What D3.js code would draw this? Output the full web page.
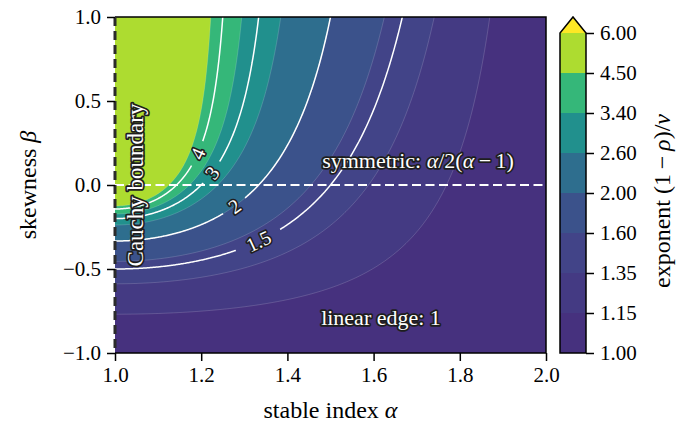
<!DOCTYPE html>
<html>
<head>
<meta charset="utf-8">
<script src="https://cdn.jsdelivr.net/npm/d3@7"></script>
<style>
  body { margin: 0; background: #fff; }
  svg { font-family: "Liberation Serif", "Times New Roman", serif; }
  .halo { fill: #fff; stroke: #1e1e1e; stroke-width: 3.5px; paint-order: stroke; stroke-linejoin: round; }
</style>
</head>
<body>
<script>
// axis ranges and ticks
var alphaRange = [1, 2],
    betaRange = [-1, 1],
    xTicks = [1.0, 1.2, 1.4, 1.6, 1.8, 2.0],
    yTicks = [-1.0, -0.5, 0.0, 0.5, 1.0];

// filled contour levels (colorbar ticks) and their colours
var levels = [1.00, 1.15, 1.35, 1.60, 2.00, 2.60, 3.40, 4.50, 6.00];
var binColors = ["#46317e", "#443a83", "#424488", "#3b528b", "#2e6e8e", "#21908d", "#35b779", "#addc30"],
    overColor = "#fde725";

// white contour lines, and the alpha at which each label sits
var lineLevels = [1.5, 2, 3, 4],
    lineLabels = ["1.5", "2", "3", "4"],
    labelAlpha = [1.333, 1.277, 1.225, 1.192];

var W = 678, H = 424,
    m = {left: 115, right: 546, top: 17, bottom: 353};

var xs = d3.scaleLinear().domain(alphaRange).range([m.left, m.right]),
    ys = d3.scaleLinear().domain(betaRange).range([m.bottom, m.top]);

// exponent (1 - rho)/nu of a stable law, rho = P(X > 0), nu = 1 - 1/alpha
function exponent(a, b) {
  var rho = 0.5 + Math.atan(b * Math.tan(Math.PI * a / 2)) / (Math.PI * a);
  var nu = 1 - 1 / a;
  return Math.min((1 - rho) / nu, 6);
}

// sample grid (with a little padding outside the axes so edges get clipped)
var N = 440, M = 340, PAD = 2,
    DA = (alphaRange[1] - alphaRange[0]) / N,
    DB = (betaRange[1] - betaRange[0]) / M,
    nx = N + 1 + 2 * PAD, ny = M + 1 + 2 * PAD;
var grid = new Float64Array(nx * ny);
for (var j = 0; j < ny; j++) {
  var b = Math.max(-1, Math.min(1, betaRange[1] - (j - PAD) * DB));
  for (var i = 0; i < nx; i++) {
    var a = Math.max(1 + 1e-7, Math.min(2, alphaRange[0] + (i - PAD) * DA));
    grid[j * nx + i] = exponent(a, b);
  }
}

var proj = d3.geoTransform({
  point: function(x, y) {
    this.stream.point(xs(alphaRange[0] + (x - 0.5 - PAD) * DA),
                      ys(betaRange[1] - (y - 0.5 - PAD) * DB));
  }
});
var path = d3.geoPath(proj);

var svg = d3.select("body").append("svg")
    .attr("width", W).attr("height", H);

var defs = svg.append("defs");
defs.append("clipPath").attr("id", "plotclip")
  .append("rect")
    .attr("x", m.left).attr("y", m.top)
    .attr("width", m.right - m.left).attr("height", m.bottom - m.top);

var plot = svg.append("g").attr("clip-path", "url(#plotclip)");

// filled bands
plot.append("rect")
    .attr("x", m.left).attr("y", m.top)
    .attr("width", m.right - m.left).attr("height", m.bottom - m.top)
    .attr("fill", binColors[0]);

var fillContours = d3.contours().size([nx, ny]).thresholds(levels.slice(1, 8))(grid);
plot.selectAll("path.band")
    .data(fillContours)
  .enter().append("path")
    .attr("class", "band")
    .attr("d", path)
    .attr("fill", function(d, i) { return binColors[i + 1]; })
    .attr("stroke", "rgba(255,255,255,0.28)")
    .attr("stroke-width", 0.6);

// label placement along each line
function betaOn(level, a) {
  var lo = -1, hi = 1;
  if (exponent(a, hi) < level || exponent(a, lo) > level) return null;
  for (var k = 0; k < 60; k++) {
    var mid = (lo + hi) / 2;
    if (exponent(a, mid) < level) lo = mid; else hi = mid;
  }
  return (lo + hi) / 2;
}
var labels = lineLevels.map(function(L, k) {
  var a = labelAlpha[k], b = betaOn(L, a);
  var b1 = betaOn(L, a - 0.004), b2 = betaOn(L, a + 0.004);
  var dx = xs(a + 0.004) - xs(a - 0.004), dy = ys(b2) - ys(b1);
  var ang = Math.atan2(dy, dx) * 180 / Math.PI;
  if (ang > 90) ang -= 180;
  if (ang < -90) ang += 180;
  return {text: lineLabels[k], x: xs(a), y: ys(b), angle: ang};
});

// mask cutting the lines under the labels
var mask = defs.append("mask").attr("id", "gaps")
    .attr("maskUnits", "userSpaceOnUse")
    .attr("x", 0).attr("y", 0).attr("width", W).attr("height", H);
mask.append("rect").attr("width", W).attr("height", H).attr("fill", "#fff");
mask.selectAll("rect.cut")
    .data(labels)
  .enter().append("rect")
    .attr("class", "cut")
    .attr("x", function(d) { return -(d.text.length * 5.5 + 8); })
    .attr("y", -10)
    .attr("width", function(d) { return 2 * (d.text.length * 5.5 + 8); })
    .attr("height", 20)
    .attr("fill", "#000")
    .attr("transform", function(d) { return "translate(" + d.x + "," + d.y + ") rotate(" + d.angle + ")"; });

var lineContours = d3.contours().size([nx, ny]).thresholds(lineLevels)(grid);
plot.append("g").attr("mask", "url(#gaps)")
  .selectAll("path")
    .data(lineContours)
  .enter().append("path")
    .attr("d", path)
    .attr("fill", "none")
    .attr("stroke", "#fff")
    .attr("stroke-width", 1.5);

// symmetric line beta = 0
plot.append("line")
    .attr("x1", xs(1)).attr("x2", xs(2))
    .attr("y1", ys(0)).attr("y2", ys(0))
    .attr("stroke", "#fff").attr("stroke-width", 2)
    .attr("stroke-dasharray", "9,4.5");

// contour labels
svg.selectAll("text.clabel")
    .data(labels)
  .enter().append("text")
    .attr("class", "clabel halo")
    .attr("transform", function(d) { return "translate(" + d.x + "," + d.y + ") rotate(" + d.angle + ")"; })
    .attr("text-anchor", "middle")
    .attr("dy", "0.35em")
    .style("font-size", "20px")
    .style("stroke-width", "3.2px")
    .text(function(d) { return d.text; });

// spines
svg.append("path")
    .attr("d", "M" + m.left + "," + m.top + "H" + m.right + "V" + m.bottom + "H" + m.left)
    .attr("fill", "none").attr("stroke", "#000").attr("stroke-width", 1.5);

// Cauchy boundary alpha = 1
svg.append("line")
    .attr("x1", xs(1)).attr("x2", xs(1))
    .attr("y1", ys(1)).attr("y2", ys(-1))
    .attr("stroke", "#2b2b2b").attr("stroke-width", 3)
    .attr("stroke-dasharray", "9,5");

// axes
var xAxis = svg.append("g")
    .attr("transform", "translate(0," + m.bottom + ")")
    .call(d3.axisBottom(xs).tickValues(xTicks).tickFormat(d3.format(".1f")).tickSize(8).tickPadding(6));
var yAxis = svg.append("g")
    .attr("transform", "translate(" + m.left + ",0)")
    .call(d3.axisLeft(ys).tickValues(yTicks).tickFormat(function(d) { return d3.format(".1f")(d).replace("-", "\u2212"); }).tickSize(8).tickPadding(6));
[xAxis, yAxis].forEach(function(g) {
  g.select(".domain").remove();
  g.selectAll(".tick line").attr("stroke", "#000").attr("stroke-width", 1.5);
  g.selectAll(".tick text").attr("fill", "#000")
    .style("font-family", "Liberation Serif, serif").style("font-size", "21px");
});

svg.append("text")
    .attr("x", (m.left + m.right) / 2).attr("y", 418)
    .attr("text-anchor", "middle").style("font-size", "24px")
    .html('stable index <tspan font-style="italic">\u03b1</tspan>');
svg.append("text")
    .attr("transform", "translate(36," + ((m.top + m.bottom) / 2) + ") rotate(-90)")
    .attr("text-anchor", "middle").style("font-size", "24px")
    .html('skewness <tspan font-style="italic">\u03b2</tspan>');

// annotations
svg.append("text").attr("class", "halo")
    .attr("transform", "translate(143," + ys(0) + ") rotate(-90)")
    .attr("text-anchor", "middle").style("font-size", "23px")
    .text("Cauchy boundary");
svg.append("text").attr("class", "halo")
    .attr("x", 418).attr("y", 168)
    .attr("text-anchor", "middle").style("font-size", "22px")
    .html('symmetric: <tspan font-style="italic">\u03b1</tspan>/2(<tspan font-style="italic">\u03b1</tspan>\u2009\u2212\u20091)');
svg.append("text").attr("class", "halo")
    .attr("x", 381).attr("y", 325)
    .attr("text-anchor", "middle").style("font-size", "22px")
    .text("linear edge: 1");

// colorbar
var cb = {left: 560, right: 586, top: 33, bottom: 353, tip: 17};
var cs = d3.scalePoint().domain(levels).range([cb.bottom, cb.top]);
var cbar = svg.append("g");
cbar.selectAll("rect")
    .data(binColors)
  .enter().append("rect")
    .attr("x", cb.left)
    .attr("y", function(d, i) { return cs(levels[i + 1]); })
    .attr("width", cb.right - cb.left)
    .attr("height", function(d, i) { return cs(levels[i]) - cs(levels[i + 1]); })
    .attr("fill", function(d) { return d; });
cbar.append("path")
    .attr("d", "M" + cb.left + "," + cb.top + "L" + ((cb.left + cb.right) / 2) + "," + cb.tip + "L" + cb.right + "," + cb.top + "Z")
    .attr("fill", overColor);
cbar.append("path")
    .attr("d", "M" + cb.left + "," + cb.bottom + "V" + cb.top + "L" + ((cb.left + cb.right) / 2) + "," + cb.tip +
               "L" + cb.right + "," + cb.top + "V" + cb.bottom + "Z")
    .attr("fill", "none").attr("stroke", "#000").attr("stroke-width", 1.5);
var cAxis = cbar.append("g")
    .attr("transform", "translate(" + cb.right + ",0)")
    .call(d3.axisRight(cs).tickFormat(d3.format(".2f")).tickSize(8).tickPadding(6));
cAxis.select(".domain").remove();
cAxis.selectAll(".tick line").attr("stroke", "#000").attr("stroke-width", 1.5);
cAxis.selectAll(".tick text").attr("fill", "#000")
    .style("font-family", "Liberation Serif, serif").style("font-size", "21px");

svg.append("text")
    .attr("transform", "translate(670," + ((cb.top + cb.bottom) / 2 + 8) + ") rotate(-90)")
    .attr("text-anchor", "middle").style("font-size", "24px")
    .html('exponent (1\u2009\u2212\u2009<tspan font-style="italic">\u03c1</tspan>)/<tspan font-style="italic">\u03bd</tspan>');
</script>
</body>
</html>
